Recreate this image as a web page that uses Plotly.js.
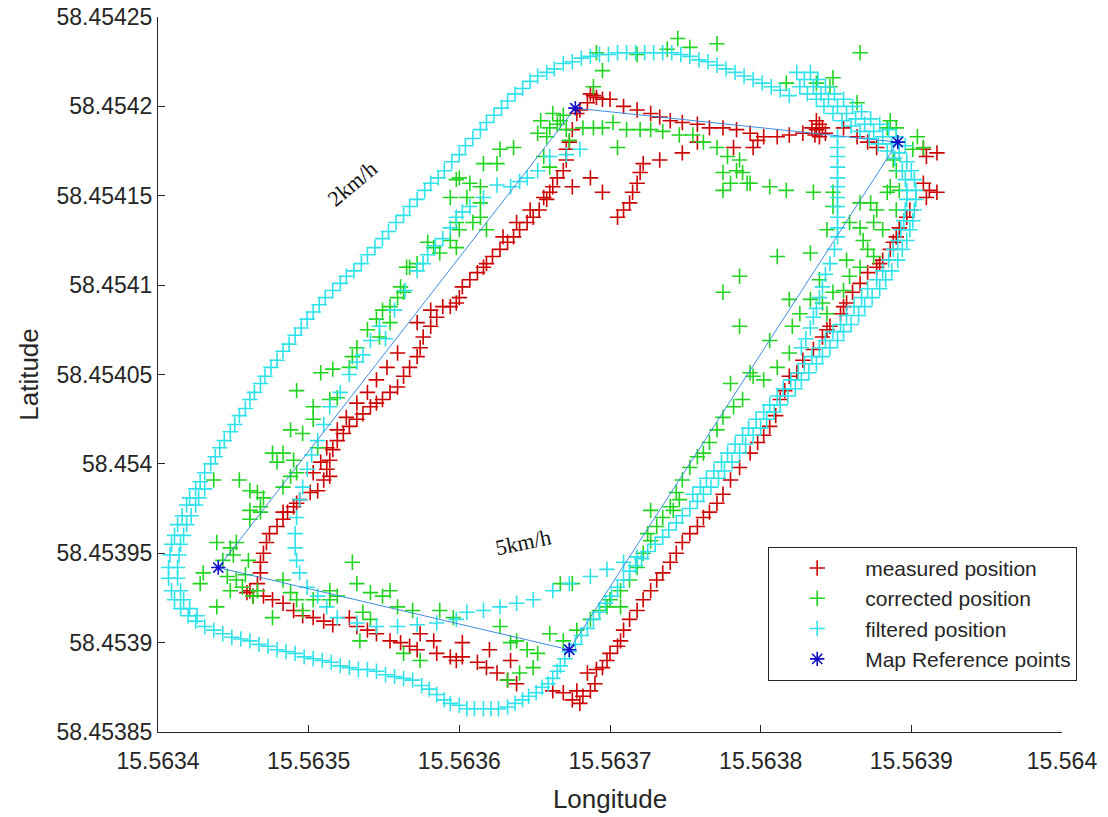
<!DOCTYPE html>
<html>
<head>
<meta charset="utf-8">
<script src="https://cdn.plot.ly/plotly-3.0.1.min.js"></script>
<style>html,body{margin:0;padding:0;background:#fff;}#chart{width:1108px;height:817px;}</style>
</head>
<body>
<div id="chart"></div>
<script>
// ---- Data: [longitude, latitude] ----
const seriesNames = ['measured position', 'corrected position', 'filtered position', 'Map Reference points'];

const measuredPositions = [
[15.563687,58.454207],[15.563691,58.454205],[15.563695,58.454204],[15.563685,58.454202],[15.563689,58.454206],[15.563700,58.454204],
[15.563709,58.454200],[15.563718,58.454198],[15.563727,58.454196],[15.563733,58.454194],[15.563740,58.454192],[15.563748,58.454191],
[15.563758,58.454190],[15.563766,58.454188],[15.563775,58.454188],[15.563784,58.454187],[15.563793,58.454185],[15.563798,58.454181],
[15.563795,58.454177],[15.563782,58.454177],[15.563758,58.454180],[15.563748,58.454174],[15.563733,58.454170],[15.563722,58.454168],
[15.563720,58.454163],[15.563718,58.454157],[15.563715,58.454152],[15.563713,58.454146],[15.563709,58.454142],[15.563705,58.454138],
[15.563695,58.454152],[15.563687,58.454160],[15.563675,58.454155],[15.563802,58.454183],[15.563811,58.454183],[15.563819,58.454184],
[15.563828,58.454185],[15.563837,58.454187],[15.563839,58.454183],[15.563841,58.454188],[15.563837,58.454192],[15.563834,58.454188],
[15.563855,58.454188],[15.563864,58.454183],[15.563871,58.454180],[15.563877,58.454177],[15.563910,58.454172],[15.563917,58.454174],
[15.563908,58.454176],[15.563912,58.454153],[15.563917,58.454152],[15.563910,58.454149],[15.563908,58.454157],[15.563899,58.454142],
[15.563897,58.454138],[15.563892,58.454132],[15.563890,58.454127],[15.563888,58.454124],[15.563886,58.454120],[15.563881,58.454114],
[15.563877,58.454110],[15.563678,58.454196],[15.563680,58.454198],[15.563675,58.454187],[15.563673,58.454180],[15.563671,58.454176],
[15.563671,58.454170],[15.563669,58.454164],[15.563665,58.454160],[15.563662,58.454155],[15.563660,58.454152],[15.563658,58.454148],
[15.563653,58.454142],[15.563649,58.454138],[15.563645,58.454135],[15.563640,58.454131],[15.563636,58.454127],[15.563632,58.454124],
[15.563627,58.454120],[15.563622,58.454116],[15.563618,58.454112],[15.563616,58.454110],[15.563656,58.454149],[15.563647,58.454142],
[15.563638,58.454135],[15.563629,58.454127],[15.563612,58.454107],[15.563607,58.454103],[15.563602,58.454099],[15.563600,58.454093],
[15.563594,58.454088],[15.563589,58.454088],[15.563585,58.454082],[15.563581,58.454077],[15.563576,58.454071],[15.563574,58.454065],
[15.563572,58.454060],[15.563567,58.454054],[15.563563,58.454049],[15.563559,58.454043],[15.563554,58.454040],[15.563549,58.454036],
[15.563545,58.454034],[15.563541,58.454032],[15.563536,58.454028],[15.563532,58.454025],[15.563527,58.454021],[15.563523,58.454017],
[15.563519,58.454013],[15.563516,58.454008],[15.563514,58.454002],[15.563512,58.453997],[15.563510,58.453991],[15.563506,58.453985],
[15.563501,58.453984],[15.563494,58.453980],[15.563490,58.453976],[15.563486,58.453973],[15.563581,58.454086],[15.563572,58.454079],
[15.563559,58.454062],[15.563552,58.454054],[15.563545,58.454047],[15.563539,58.454040],[15.563532,58.454034],[15.563525,58.454026],
[15.563519,58.454019],[15.563512,58.454009],[15.563508,58.454001],[15.563503,58.453995],[15.563514,58.453993],[15.563492,58.453978],
[15.563483,58.453973],[15.563598,58.454090],[15.563483,58.453969],[15.563479,58.453965],[15.563474,58.453961],[15.563472,58.453956],
[15.563470,58.453950],[15.563468,58.453945],[15.563468,58.453939],[15.563466,58.453933],[15.563461,58.453929],[15.563463,58.453926],
[15.563470,58.453926],[15.563476,58.453924],[15.563483,58.453922],[15.563490,58.453918],[15.563496,58.453915],[15.563503,58.453914],
[15.563510,58.453912],[15.563516,58.453910],[15.563527,58.453914],[15.563532,58.453909],[15.563539,58.453907],[15.563545,58.453905],
[15.563554,58.453901],[15.563561,58.453900],[15.563567,58.453898],[15.563572,58.453896],[15.563574,58.453905],[15.563583,58.453901],
[15.563585,58.453894],[15.563594,58.453892],[15.563598,58.453890],[15.563459,58.453928],[15.563602,58.453892],[15.563612,58.453889],
[15.563618,58.453886],[15.563625,58.453883],[15.563632,58.453879],[15.563638,58.453877],[15.563634,58.453890],[15.563620,58.453896],
[15.563602,58.453900],[15.563662,58.453873],[15.563669,58.453872],[15.563675,58.453868],[15.563680,58.453866],[15.563682,58.453870],
[15.563687,58.453873],[15.563685,58.453883],[15.563691,58.453885],[15.563695,58.453886],[15.563698,58.453890],[15.563700,58.453894],
[15.563705,58.453898],[15.563707,58.453901],[15.563709,58.453907],[15.563713,58.453913],[15.563718,58.453918],[15.563722,58.453924],
[15.563727,58.453929],[15.563731,58.453935],[15.563735,58.453939],[15.563740,58.453945],[15.563744,58.453950],[15.563748,58.453956],
[15.563753,58.453961],[15.563758,58.453965],[15.563762,58.453970],[15.563766,58.453973],[15.563771,58.453978],[15.563775,58.453983],
[15.563780,58.453991],[15.563786,58.453998],[15.563793,58.454006],[15.563798,58.454012],[15.563806,58.454021],[15.563813,58.454036],
[15.563819,58.454049],[15.563824,58.454051],[15.563828,58.454058],[15.563835,58.454064],[15.563841,58.454071],[15.563844,58.454075],
[15.563846,58.454077],[15.563853,58.454084],[15.563855,58.454088],[15.563857,58.454090],[15.563861,58.454096],[15.563866,58.454101],
[15.563871,58.454107],[15.563879,58.454112],[15.563802,58.454016],[15.563810,58.454027],[15.563816,58.454041],[15.563690,58.453877],
[15.563678,58.453873],[15.563839,58.454190],[15.563836,58.454184],[15.563843,58.454185]
];

const correctedPositions = [
[15.563594,58.454149],[15.563598,58.454159],[15.563579,58.454124],[15.563583,58.454121],[15.563587,58.454118],[15.563594,58.454125],
[15.563565,58.454110],[15.563572,58.454112],[15.563598,58.454135],[15.563745,58.454238],[15.563753,58.454233],[15.563771,58.454235],
[15.563738,58.454232],[15.563718,58.454229],[15.563691,58.454230],[15.563695,58.454220],[15.563689,58.454211],[15.563662,58.454196],
[15.563667,58.454192],[15.563654,58.454192],[15.563658,58.454183],[15.563652,58.454185],[15.563671,58.454187],[15.563673,58.454181],
[15.563682,58.454188],[15.563689,58.454188],[15.563695,58.454188],[15.563702,58.454191],[15.563711,58.454187],[15.563720,58.454187],
[15.563727,58.454187],[15.563735,58.454186],[15.563746,58.454184],[15.563755,58.454184],[15.563705,58.454177],[15.563627,58.454176],
[15.563636,58.454177],[15.563616,58.454168],[15.563625,58.454168],[15.563600,58.454160],[15.563607,58.454157],[15.563614,58.454155],
[15.563605,58.454149],[15.563614,58.454146],[15.563614,58.454138],[15.563609,58.454135],[15.563618,58.454131],[15.563600,58.454131],
[15.563598,58.454121],[15.563656,58.454172],[15.563660,58.454166],[15.563762,58.454180],[15.563771,58.454177],[15.563778,58.454172],
[15.563786,58.454170],[15.563788,58.454163],[15.563775,58.454163],[15.563780,58.454157],[15.563775,58.454153],[15.563791,58.454157],
[15.563784,58.454164],[15.563866,58.454230],[15.563848,58.454216],[15.563846,58.454211],[15.563817,58.454213],[15.563837,58.454213],
[15.563864,58.454202],[15.563886,58.454192],[15.563890,58.454188],[15.563884,58.454188],[15.563904,58.454183],[15.563901,58.454176],
[15.563908,58.454177],[15.563888,58.454170],[15.563890,58.454164],[15.563886,58.454155],[15.563892,58.454153],[15.563884,58.454152],
[15.563890,58.454142],[15.563806,58.454155],[15.563817,58.454153],[15.563835,58.454152],[15.563848,58.454152],[15.563866,58.454146],
[15.563873,58.454146],[15.563877,58.454142],[15.563866,58.454132],[15.563875,58.454135],[15.563881,58.454131],[15.563844,58.454131],
[15.563848,58.454144],[15.563859,58.454135],[15.563868,58.454125],[15.563871,58.454120],[15.563875,58.454116],[15.563811,58.454116],
[15.563833,58.454118],[15.563857,58.454114],[15.563793,58.454157],[15.563561,58.454099],[15.563563,58.454096],[15.563559,58.454093],
[15.563554,58.454088],[15.563549,58.454086],[15.563545,58.454081],[15.563539,58.454075],[15.563547,58.454071],[15.563532,58.454065],
[15.563529,58.454060],[15.563527,58.454054],[15.563516,58.454053],[15.563508,58.454051],[15.563492,58.454041],[15.563503,58.454032],
[15.563503,58.454025],[15.563514,58.454036],[15.563519,58.454037],[15.563488,58.454019],[15.563496,58.454017],[15.563476,58.454006],
[15.563483,58.454006],[15.563479,58.454001],[15.563490,58.454002],[15.563492,58.453995],[15.563506,58.454009],[15.563437,58.453991],
[15.563454,58.453991],[15.563461,58.453985],[15.563466,58.453984],[15.563470,58.453981],[15.563468,58.453976],[15.563461,58.453974],
[15.563483,58.453987],[15.563488,58.453993],[15.563567,58.454110],[15.563554,58.454079],[15.563461,58.453969],[15.563468,58.453973],
[15.563439,58.453956],[15.563448,58.453953],[15.563452,58.453956],[15.563430,58.453939],[15.563428,58.453933],[15.563446,58.453937],
[15.563452,58.453935],[15.563448,58.453929],[15.563456,58.453931],[15.563466,58.453929],[15.563463,58.453926],[15.563439,58.453920],
[15.563476,58.453914],[15.563483,58.453935],[15.563488,58.453928],[15.563492,58.453924],[15.563496,58.453918],[15.563503,58.453924],
[15.563514,58.453929],[15.563519,58.453926],[15.563529,58.453945],[15.563532,58.453933],[15.563541,58.453928],[15.563549,58.453926],
[15.563554,58.453929],[15.563559,58.453920],[15.563569,58.453918],[15.563587,58.453918],[15.563596,58.453914],[15.563536,58.453917],
[15.563541,58.453913],[15.563534,58.453901],[15.563563,58.453894],[15.563574,58.453890],[15.563514,58.453924],[15.563627,58.453909],
[15.563634,58.453900],[15.563638,58.453901],[15.563645,58.453896],[15.563652,58.453894],[15.563649,58.453886],[15.563640,58.453883],
[15.563632,58.453879],[15.563660,58.453905],[15.563669,58.453901],[15.563678,58.453907],[15.563687,58.453913],[15.563693,58.453918],
[15.563700,58.453924],[15.563707,58.453929],[15.563713,58.453935],[15.563718,58.453942],[15.563722,58.453950],[15.563727,58.453957],
[15.563731,58.453965],[15.563735,58.453970],[15.563742,58.453974],[15.563746,58.453980],[15.563667,58.453933],[15.563675,58.453933],
[15.563698,58.453920],[15.563707,58.453920],[15.563725,58.453961],[15.563727,58.453974],[15.563786,58.454105],[15.563775,58.454096],
[15.563786,58.454077],[15.563780,58.454045],[15.563795,58.454049],[15.563788,58.454036],[15.563782,58.454032],[15.563775,58.454026],
[15.563771,58.454019],[15.563766,58.454012],[15.563762,58.454006],[15.563758,58.454004],[15.563753,58.453998],[15.563748,58.453991],
[15.563744,58.453984],[15.563740,58.453976],[15.563793,58.454051],[15.563802,58.454047],[15.563811,58.454054],[15.563819,58.454062],
[15.563806,58.454069],[15.563821,58.454077],[15.563826,58.454084],[15.563819,58.454092],[15.563833,58.454092],[15.563841,58.454090],
[15.563848,58.454096],[15.563839,58.454103],[15.563859,58.454105],[15.563866,58.454110],[15.563855,58.454097],[15.563844,58.454084],
[15.563665,58.454190],[15.563669,58.454195],[15.563660,58.454188],[15.563450,58.453949],[15.563460,58.453946],[15.563443,58.453946],
[15.563458,58.453938]
];

const filteredOuterArc = [
[15.563407,58.453942],[15.563408,58.453949],[15.563409,58.453955],[15.563411,58.453960],[15.563413,58.453966],[15.563416,58.453971],
[15.563419,58.453977],[15.563421,58.453981],[15.563425,58.453986],[15.563428,58.453990],[15.563431,58.453995],[15.563435,58.454000],
[15.563438,58.454004],[15.563441,58.454009],[15.563444,58.454013],[15.563448,58.454018],[15.563451,58.454022],[15.563454,58.454027],
[15.563458,58.454031],[15.563461,58.454036],[15.563464,58.454040],[15.563468,58.454045],[15.563471,58.454049],[15.563475,58.454054],
[15.563479,58.454058],[15.563483,58.454063],[15.563487,58.454067],[15.563491,58.454072],[15.563495,58.454076],[15.563499,58.454081],
[15.563503,58.454085],[15.563507,58.454089],[15.563511,58.454093],[15.563516,58.454097],[15.563521,58.454101],[15.563525,58.454105],
[15.563530,58.454108],[15.563535,58.454112],[15.563539,58.454117],[15.563544,58.454121],[15.563549,58.454126],[15.563553,58.454130],
[15.563558,58.454135],[15.563563,58.454139],[15.563567,58.454144],[15.563572,58.454148],[15.563577,58.454153],[15.563581,58.454157],
[15.563586,58.454160],[15.563590,58.454164],[15.563595,58.454169],[15.563600,58.454173],[15.563604,58.454178],[15.563609,58.454182],
[15.563614,58.454187],[15.563618,58.454191],[15.563623,58.454195],[15.563628,58.454199],[15.563632,58.454203],[15.563637,58.454207],
[15.563642,58.454210],[15.563647,58.454214],[15.563652,58.454217],[15.563658,58.454219],[15.563663,58.454221],[15.563669,58.454224],
[15.563675,58.454225],[15.563681,58.454227],[15.563687,58.454228],[15.563693,58.454229],[15.563699,58.454229],[15.563705,58.454230],
[15.563711,58.454230],[15.563717,58.454230],[15.563723,58.454230],[15.563729,58.454230],[15.563735,58.454230],[15.563741,58.454230],
[15.563747,58.454229],[15.563753,58.454228],[15.563759,58.454226],[15.563765,58.454225],[15.563771,58.454223],[15.563777,58.454221],
[15.563783,58.454219],[15.563789,58.454217],[15.563795,58.454215],[15.563801,58.454213],[15.563807,58.454211],[15.563813,58.454209],
[15.563819,58.454206]
];

const filteredLoop = [
[15.563824,58.454219],[15.563829,58.454215],[15.563835,58.454211],[15.563840,58.454207],[15.563845,58.454204],[15.563851,58.454200],
[15.563857,58.454196],[15.563863,58.454193],[15.563869,58.454190],[15.563875,58.454186],[15.563881,58.454183],[15.563887,58.454179],
[15.563892,58.454174],[15.563897,58.454169],[15.563900,58.454164],[15.563902,58.454159],[15.563903,58.454153],[15.563903,58.454148],
[15.563902,58.454142],[15.563901,58.454136],[15.563899,58.454131],[15.563897,58.454125],[15.563894,58.454120],[15.563891,58.454114],
[15.563887,58.454108],[15.563883,58.454103],[15.563879,58.454098],[15.563874,58.454093],[15.563869,58.454088],[15.563865,58.454083],
[15.563860,58.454078],[15.563855,58.454074],[15.563851,58.454069],[15.563846,58.454065],[15.563841,58.454060],[15.563837,58.454056],
[15.563832,58.454051],[15.563827,58.454047],[15.563823,58.454042],[15.563818,58.454038],[15.563813,58.454033],[15.563809,58.454029],
[15.563804,58.454025],[15.563800,58.454020],[15.563795,58.454016],[15.563790,58.454011],[15.563786,58.454006],[15.563781,58.454001],
[15.563776,58.453996],[15.563772,58.453992],[15.563767,58.453987],[15.563762,58.453983],[15.563758,58.453979],[15.563753,58.453975],
[15.563748,58.453971],[15.563744,58.453967],[15.563739,58.453963],[15.563735,58.453959],[15.563730,58.453955],[15.563725,58.453951],
[15.563721,58.453947],[15.563717,58.453943],[15.563713,58.453940],[15.563709,58.453935],[15.563705,58.453931],[15.563701,58.453926],
[15.563697,58.453922],[15.563693,58.453917],[15.563689,58.453913],[15.563685,58.453908],[15.563681,58.453904],[15.563677,58.453899],
[15.563673,58.453895],[15.563670,58.453891],[15.563667,58.453887],[15.563665,58.453884],[15.563662,58.453880],[15.563659,58.453877],
[15.563655,58.453875],[15.563651,58.453872],[15.563646,58.453870],[15.563642,58.453868],[15.563637,58.453866],[15.563632,58.453864],
[15.563626,58.453863],[15.563621,58.453863],[15.563616,58.453863],[15.563610,58.453863],[15.563605,58.453863],[15.563600,58.453865],
[15.563594,58.453866],[15.563590,58.453868],[15.563585,58.453871],[15.563580,58.453874],[15.563575,58.453876],[15.563569,58.453879],
[15.563563,58.453880],[15.563557,58.453881],[15.563551,58.453882],[15.563545,58.453884],[15.563539,58.453885],[15.563533,58.453885],
[15.563527,58.453886],[15.563521,58.453887],[15.563515,58.453889],[15.563509,58.453890],[15.563503,58.453891],[15.563497,58.453892],
[15.563491,58.453894],[15.563485,58.453895],[15.563479,58.453896],[15.563473,58.453898],[15.563467,58.453899],[15.563461,58.453901],
[15.563455,58.453902],[15.563449,58.453903],[15.563443,58.453905],[15.563437,58.453907],[15.563431,58.453909],[15.563425,58.453912],
[15.563420,58.453915],[15.563415,58.453919],[15.563411,58.453924],[15.563409,58.453929],[15.563407,58.453936]
];

const filteredBandExtra = [
[15.563833,58.454219],[15.563838,58.454215],[15.563843,58.454211],[15.563849,58.454207],[15.563855,58.454204],[15.563861,58.454200],
[15.563867,58.454197],[15.563873,58.454193],[15.563879,58.454190],[15.563885,58.454187],[15.563890,58.454183],[15.563896,58.454178],
[15.563826,58.454211],[15.563831,58.454207],[15.563837,58.454204],[15.563842,58.454200],[15.563848,58.454196],[15.563854,58.454192],
[15.563860,58.454189],[15.563866,58.454186],[15.563872,58.454182],[15.563878,58.454179],[15.563884,58.454175],[15.563889,58.454171],
[15.563894,58.454164],[15.563896,58.454159],[15.563897,58.454153],[15.563897,58.454148],[15.563896,58.454142],[15.563895,58.454136],
[15.563893,58.454131],[15.563891,58.454125],[15.563888,58.454120],[15.563885,58.454114],[15.563881,58.454108],[15.563877,58.454103],
[15.563871,58.454098],[15.563867,58.454093],[15.563862,58.454088],[15.563857,58.454083],[15.563853,58.454078],[15.563848,58.454074],
[15.563843,58.454069],[15.563839,58.454065],[15.563834,58.454060],[15.563829,58.454056],[15.563825,58.454051],[15.563820,58.454047],
[15.563815,58.454042],[15.563811,58.454038],[15.563806,58.454033],[15.563802,58.454029],[15.563797,58.454025],[15.563792,58.454020],
[15.563788,58.454016],[15.563783,58.454011],[15.563778,58.454006],[15.563774,58.454001],[15.563769,58.453996],[15.563764,58.453992],
[15.563760,58.453987],[15.563755,58.453983],
[15.563413,58.453942],[15.563414,58.453949],[15.563415,58.453955],[15.563417,58.453960],[15.563419,58.453966],[15.563422,58.453971],
[15.563425,58.453977],[15.563427,58.453981],[15.563431,58.453986],[15.563413,58.453936],[15.563415,58.453929],[15.563417,58.453924],
[15.563421,58.453919],[15.563426,58.453915]
];

const filteredInner = [
[15.563598,58.453913],[15.563585,58.453911],[15.563572,58.453910],[15.563559,58.453909],[15.563545,58.453909],[15.563532,58.453911],
[15.563519,58.453914],[15.563512,58.453920],[15.563506,58.453926],[15.563499,58.453931],[15.563494,58.453939],[15.563492,58.453946],
[15.563491,58.453953],[15.563491,58.453961],[15.563492,58.453970],[15.563494,58.453980],[15.563496,58.453987],[15.563499,58.453997],
[15.563502,58.454005],[15.563506,58.454013],[15.563510,58.454022],[15.563514,58.454032],[15.563521,58.454040],[15.563527,58.454050],
[15.563532,58.454057],[15.563536,58.454061],[15.563541,58.454069],[15.563547,58.454077],[15.563551,58.454070],[15.563557,58.454086],
[15.563564,58.454097],[15.563572,58.454108],[15.563576,58.454112],[15.563579,58.454117],[15.563584,58.454122],[15.563589,58.454126],
[15.563594,58.454132],[15.563598,58.454138],[15.563602,58.454141],[15.563607,58.454144],[15.563616,58.454149],[15.563625,58.454156],
[15.563634,58.454155],[15.563640,58.454158],[15.563645,58.454160],[15.563652,58.454164],[15.563660,58.454172],[15.563671,58.454173],
[15.563680,58.454176],
[15.563605,58.453917],[15.563616,58.453918],[15.563627,58.453920],[15.563638,58.453922],[15.563649,58.453924],[15.563662,58.453929],
[15.563673,58.453933],[15.563687,58.453937],[15.563698,58.453941],[15.563709,58.453945],[15.563718,58.453948],
[15.563851,58.454183],[15.563851,58.454177],[15.563851,58.454172],[15.563851,58.454166],[15.563851,58.454160],[15.563851,58.454155],
[15.563851,58.454149],[15.563851,58.454144],[15.563851,58.454138],[15.563851,58.454132],[15.563851,58.454127],[15.563849,58.454120],
[15.563846,58.454112],[15.563843,58.454106],[15.563841,58.454099],[15.563839,58.454093],[15.563837,58.454087],[15.563835,58.454082],
[15.563833,58.454076],[15.563830,58.454070],[15.563827,58.454065]
];

const mapReferencePoints = [
[15.563440,58.453942],[15.563677,58.454199],[15.563891,58.454180],[15.563673,58.453896]
];

const xTickVals = [15.5634, 15.5635, 15.5636, 15.5637, 15.5638, 15.5639, 15.5640];
const xTickText = ['15.5634', '15.5635', '15.5636', '15.5637', '15.5638', '15.5639', '15.564'];
const yTickVals = [58.45385, 58.4539, 58.45395, 58.454, 58.45405, 58.4541, 58.45415, 58.4542, 58.45425];
const yTickText = ['58.45385', '58.4539', '58.45395', '58.454', '58.45405', '58.4541', '58.45415', '58.4542', '58.45425'];

const speedLabels = [
  {text: '2km/h', lon: 15.563529, lat: 58.454157, angle: -40},
  {text: '5km/h', lon: 15.563642, lat: 58.453956, angle: -12}
];

// ---- Build traces ----
const filteredPositions = filteredOuterArc.concat(filteredLoop, filteredBandExtra, filteredInner);
const lons = a => a.map(p => p[0]);
const lats = a => a.map(p => p[1]);
const plusMarker = c => ({symbol: 'cross-thin-open', size: 11, color: c, line: {color: c, width: 1.6}});

const refLoop = mapReferencePoints.concat([mapReferencePoints[0]]);

const traces = [
  {type: 'scatter', mode: 'markers', name: seriesNames[0], x: lons(measuredPositions), y: lats(measuredPositions), marker: plusMarker('#cc0000')},
  {type: 'scatter', mode: 'markers', name: seriesNames[1], x: lons(correctedPositions), y: lats(correctedPositions), marker: plusMarker('#1fd41f')},
  {type: 'scatter', mode: 'markers', name: seriesNames[2], x: lons(filteredPositions), y: lats(filteredPositions), marker: plusMarker('#2ee2ea')},
  {type: 'scatter', mode: 'lines', showlegend: false, hoverinfo: 'skip', x: lons(refLoop), y: lats(refLoop), line: {color: '#3b8ee2', width: 1}},
  {type: 'scatter', mode: 'markers', name: seriesNames[3], x: lons(mapReferencePoints), y: lats(mapReferencePoints),
   marker: {symbol: 'asterisk-open', size: 12, color: '#1010c8', line: {color: '#1010c8', width: 1.6}}}
];

const axisFont = {family: 'Liberation Sans, Arial, sans-serif', size: 23, color: '#262626'};

const layout = {
  width: 1108, height: 817,
  margin: {l: 158, r: 46, t: 17, b: 85},
  paper_bgcolor: '#ffffff', plot_bgcolor: '#ffffff',
  showlegend: true,
  xaxis: {
    range: [15.5634, 15.564], tickmode: 'array', tickvals: xTickVals, ticktext: xTickText,
    showgrid: false, zeroline: false, showline: true, linecolor: '#262626', linewidth: 1, mirror: false,
    ticks: 'inside', ticklen: 7, tickwidth: 1, tickcolor: '#262626', tickfont: axisFont,
    ticklabelstandoff: 8,
    title: {text: 'Longitude', font: {family: 'Liberation Sans, Arial, sans-serif', size: 26, color: '#262626'}, standoff: 17},
    automargin: false
  },
  yaxis: {
    range: [58.45385, 58.45425], tickmode: 'array', tickvals: yTickVals, ticktext: yTickText,
    showgrid: false, zeroline: false, showline: true, linecolor: '#262626', linewidth: 1, mirror: false,
    ticks: 'inside', ticklen: 7, tickwidth: 1, tickcolor: '#262626', tickfont: axisFont,
    title: {text: 'Latitude', font: {family: 'Liberation Sans, Arial, sans-serif', size: 26, color: '#262626'}, standoff: 10},
    automargin: false
  },
  legend: {
    x: 0.675, y: 0.259, xanchor: 'left', yanchor: 'top',
    bgcolor: '#ffffff', bordercolor: '#262626', borderwidth: 1,
    font: {family: 'Liberation Sans, Arial, sans-serif', size: 21, color: '#262626'},
    itemwidth: 86, tracegroupgap: 0
  },
  annotations: speedLabels.map(s => ({
    x: s.lon, y: s.lat, xref: 'x', yref: 'y', text: s.text, showarrow: false, textangle: s.angle,
    font: {family: 'Liberation Serif, DejaVu Serif, serif', size: 22, color: '#111111'}
  }))
};

Plotly.newPlot('chart', traces, layout, {displayModeBar: false, staticPlot: true});
</script>
</body>
</html>
